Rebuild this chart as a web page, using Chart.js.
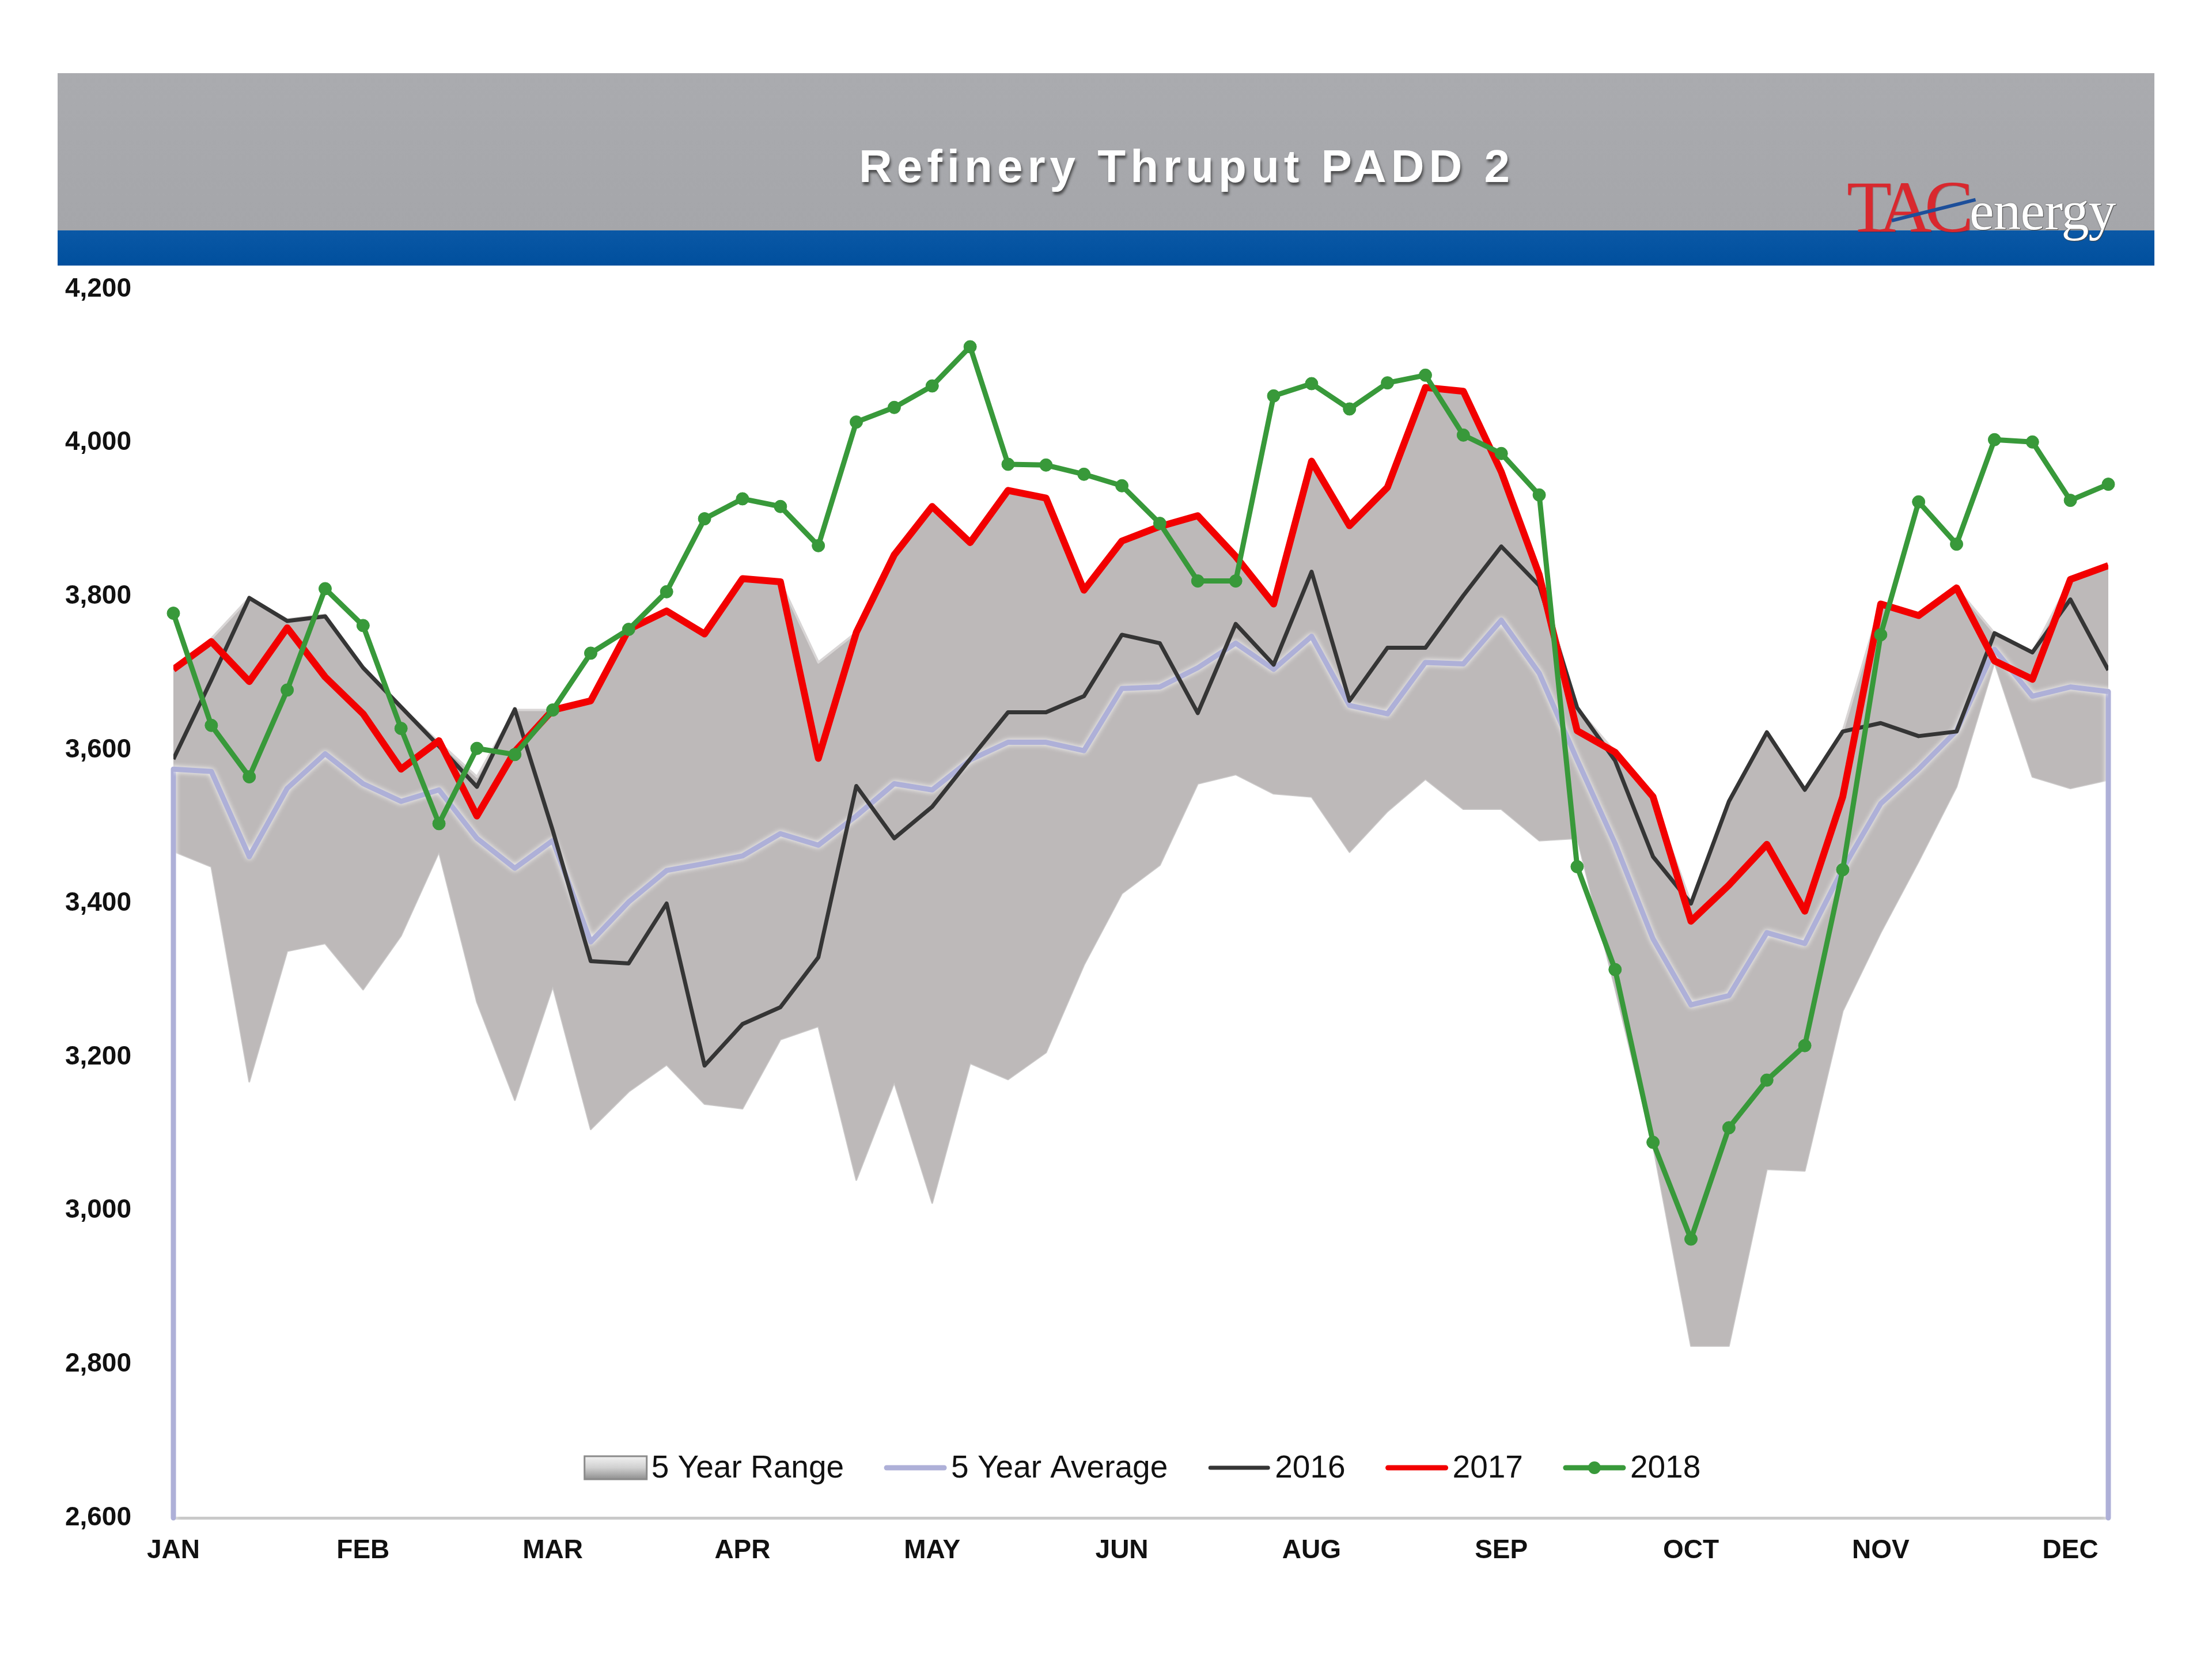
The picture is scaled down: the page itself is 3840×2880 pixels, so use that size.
<!DOCTYPE html>
<html>
<head>
<meta charset="utf-8">
<script src="https://cdn.jsdelivr.net/npm/chart.js@4.4.0/dist/chart.umd.min.js"></script>
<style>
html,body{margin:0;padding:0;background:#fff;}
#wrap{position:relative;width:3840px;height:2880px;overflow:hidden;}
#c{position:absolute;left:0;top:0;}
.hdr{position:absolute;left:100px;top:127px;width:3640px;height:273px;background:linear-gradient(#aaabaf,#a5a6aa);}
.band{position:absolute;left:100px;top:400px;width:3640px;height:61px;background:linear-gradient(#0a58a6,#004f9d);}
.title{position:absolute;left:2060px;top:249px;transform:translateX(-50%);font:bold 80px "Liberation Sans",Arial,sans-serif;line-height:80px;letter-spacing:8px;color:#fff;white-space:nowrap;text-shadow:2px 5px 4px rgba(40,40,40,.7);}
.tac{position:absolute;left:3206px;top:296px;font:127px "Liberation Serif","DejaVu Serif",serif;line-height:127px;letter-spacing:-12px;color:#d9282e;white-space:nowrap;text-shadow:1px 1px 1px rgba(120,0,0,.4);}
.energy{position:absolute;left:3419px;top:318px;font:96px "Liberation Serif","DejaVu Serif",serif;line-height:96px;letter-spacing:-1px;color:#fff;white-space:nowrap;text-shadow:0 0 2px #555,1px 1px 1px #444;}
.slash{position:absolute;left:3284px;top:380px;width:150px;height:6px;background:#1d4f9a;transform:rotate(-14deg);transform-origin:left center;}
</style>
</head>
<body>
<div id="wrap">
<canvas id="c" width="3840" height="2880"></canvas>
<div class="hdr"></div>
<div class="band"></div>
<div class="title">Refinery Thruput PADD 2</div>
<div class="tac">TAC</div>
<div class="slash"></div>
<div class="energy">energy</div>
</div>
<script>
// ---- data ----
const weekIndex = [0,1,2,3,4,5,6,7,8,9,10,11,12,13,14,15,16,17,18,19,20,21,22,23,24,25,
  26,27,28,29,30,31,32,33,34,35,36,37,38,39,40,41,42,43,44,45,46,47,48,49,50,51];
const monthLabels = ['JAN','FEB','MAR','APR','MAY','JUN','AUG','SEP','OCT','NOV','DEC'];
const monthTickWeeks = [0,5,10,15,20,25,30,35,40,45,50];

const range5yrLow = [3468,3448,3168,3338,3348,3288,3358,3467,3272,3144,
  3292,3106,3155,3190,3139,3133,3223,3240,3040,3167,
  3010,3192,3171,3206,3320,3413,3450,3556,3568,3543,
  3539,3467,3520,3562,3523,3523,3482,3485,3290,3085,
  2824,2824,3054,3052,3260,3362,3455,3552,3714,3565,
  3550,3561];
const range5yrHigh = [3705,3745,3798,3770,3776,3707,3656,3610,3565,3652,
  3652,3665,3757,3781,3755,3823,3819,3714,3753,3854,
  3917,3870,3938,3928,3808,3872,3891,3905,3852,3790,
  3976,3892,3942,4072,4067,3962,3828,3655,3597,3539,
  3400,3533,3623,3548,3624,3790,3775,3811,3752,3727,
  3822,3840];
const avg5yr = [3575,3572,3461,3550,3595,3556,3533,3548,3485,3446,
  3482,3350,3402,3443,3452,3462,3491,3476,3514,3556,
  3548,3587,3610,3610,3599,3680,3682,3707,3739,3705,
  3748,3658,3647,3714,3712,3769,3700,3587,3478,3354,
  3268,3280,3362,3348,3445,3530,3575,3625,3731,3670,
  3682,3676];
const y2016 = [3588,3691,3798,3768,3774,3707,3656,3605,3552,3653,
  3495,3325,3322,3400,3189,3243,3265,3330,3553,3485,
  3526,3588,3649,3649,3670,3750,3739,3648,3764,3711,
  3832,3664,3733,3733,3801,3865,3814,3655,3586,3461,
  3400,3533,3623,3548,3624,3635,3618,3624,3752,3727,
  3796,3704];
const y2017 = [3705,3741,3689,3759,3695,3647,3575,3612,3514,3598,
  3652,3664,3757,3781,3751,3823,3819,3589,3753,3854,
  3917,3870,3938,3928,3808,3872,3891,3905,3852,3790,
  3976,3892,3942,4072,4067,3962,3828,3625,3597,3539,
  3377,3424,3477,3390,3539,3790,3775,3811,3716,3692,
  3822,3840];
const y2018 = [3778,3632,3565,3678,3810,3762,3628,3504,3602,3594,
  3652,3726,3757,3806,3901,3927,3917,3866,4027,4046,
  4074,4125,3972,3971,3959,3944,3895,3820,3820,4061,
  4077,4044,4078,4088,4010,3986,3932,3448,3314,3089,
  2963,3108,3170,3215,3444,3750,3923,3868,4004,4001,
  3925,3946];
const yMin = 2600, yMax = 4200, yStep = 200;

// ---- styling ----
const FONT = '"Liberation Sans", Arial, sans-serif';
Chart.defaults.font.family = FONT;

const glowPlugin = {
  id: 'glow',
  beforeDatasetDraw(chart, args) {
    const ds = chart.data.datasets[args.index];
    if (ds.glow) { chart.ctx.save(); chart.ctx.shadowColor = ds.glow; chart.ctx.shadowBlur = 10; }
  },
  afterDatasetDraw(chart, args) {
    const ds = chart.data.datasets[args.index];
    if (ds.glow) chart.ctx.restore();
  }
};

const legendPlugin = {
  id: 'insideLegend',
  afterDatasetsDraw(chart) {
    const ctx = chart.ctx, area = chart.chartArea;
    const items = chart.data.datasets.filter(d => !d.label.startsWith('_'));
    const sampleW = 108, gapText = 8, gapItem = 70;
    ctx.save();
    ctx.font = 'normal 55px ' + FONT;
    ctx.textBaseline = 'middle';
    const widths = items.map(d => ctx.measureText(d.label).width);
    let total = 0;
    widths.forEach(w => total += sampleW + gapText + w);
    total += gapItem * (items.length - 1);
    let x = (area.left + area.right) / 2 + 3 - total / 2;
    const y = area.bottom - 87;
    items.forEach((d, i) => {
      if (d.legendKind === 'box') {
        const g = ctx.createLinearGradient(0, y - 20, 0, y + 20);
        g.addColorStop(0, '#f2f2f2'); g.addColorStop(0.5, '#d0d0d0'); g.addColorStop(1, '#8f8f8f');
        ctx.fillStyle = g; ctx.fillRect(x, y - 20, sampleW, 40);
        ctx.strokeStyle = '#8a8a8a'; ctx.lineWidth = 3; ctx.strokeRect(x, y - 20, sampleW, 40);
      } else {
        ctx.strokeStyle = d.borderColor; ctx.lineWidth = Math.min(d.borderWidth, 9);
        ctx.lineCap = 'round';
        ctx.beginPath(); ctx.moveTo(x + 4, y); ctx.lineTo(x + sampleW - 4, y); ctx.stroke();
        if (d.legendKind === 'marker') {
          ctx.fillStyle = d.pointBackgroundColor;
          ctx.beginPath(); ctx.arc(x + sampleW / 2, y, d.pointRadius, 0, Math.PI * 2); ctx.fill();
        }
      }
      x += sampleW + gapText;
      ctx.fillStyle = '#111';
      ctx.fillText(d.label, x, y + 2);
      x += widths[i] + gapItem;
    });
    ctx.restore();
  }
};

const AVG_COLOR = '#aeb0d8';

new Chart(document.getElementById('c'), {
  type: 'line',
  data: {
    labels: weekIndex,
    datasets: [
      { label: '_rangeLow', data: range5yrLow, borderColor: 'rgba(140,136,136,0.45)', borderWidth: 3,
        pointRadius: 0, fill: false, order: 6 },
      { label: '5 Year Range', data: range5yrHigh, borderColor: '#d9d6d6', borderWidth: 4,
        backgroundColor: '#bdb9b9', fill: '-1', pointRadius: 0, order: 5, legendKind: 'box' },
      { label: '5 Year Average', data: avg5yr, borderColor: AVG_COLOR, borderWidth: 9,
        pointRadius: 0, fill: false, order: 3, glow: 'rgba(255,255,255,0.95)', legendKind: 'line' },
      { label: '_avgEdgeStart', data: [{x: weekIndex[0], y: avg5yr[0]}, {x: weekIndex[0], y: yMin}],
        borderColor: AVG_COLOR, borderWidth: 9, pointRadius: 0, fill: false, order: 3.5, clip: 12,
        glow: 'rgba(255,255,255,0.95)' },
      { label: '_avgEdgeEnd', data: [{x: weekIndex[weekIndex.length - 1], y: avg5yr[avg5yr.length - 1]}, {x: weekIndex[weekIndex.length - 1], y: yMin}],
        borderColor: AVG_COLOR, borderWidth: 9, pointRadius: 0, fill: false, order: 3.5, clip: 12,
        glow: 'rgba(255,255,255,0.95)' },
      { label: '2016', data: y2016, borderColor: '#353535', borderWidth: 7,
        pointRadius: 0, fill: false, order: 2, legendKind: 'line' },
      { label: '2017', data: y2017, borderColor: '#f20000', borderWidth: 12,
        pointRadius: 0, fill: false, order: 1, legendKind: 'line' },
      { label: '2018', data: y2018, borderColor: '#38993a', borderWidth: 9,
        pointRadius: 11, pointBackgroundColor: '#38993a', pointBorderColor: '#38993a', pointBorderWidth: 1,
        fill: false, order: 0, legendKind: 'marker', clip: 14 }
    ]
  },
  options: {
    responsive: false,
    animation: false,
    devicePixelRatio: 1,
    layout: { padding: { left: 0, right: 180, top: 502, bottom: 125 } },
    elements: { line: { tension: 0, borderJoinStyle: 'round', borderCapStyle: 'butt' } },
    plugins: { legend: { display: false }, tooltip: { enabled: false } },
    scales: {
      x: {
        type: 'linear', min: weekIndex[0], max: weekIndex[weekIndex.length - 1],
        grid: { display: false, drawTicks: false },
        border: { display: true, color: '#c9c9c9', width: 5 },
        ticks: {
          color: '#111', padding: 30, maxRotation: 0, autoSkip: false,
          font: { size: 46, weight: 'bold' },
          callback: (v) => { const k = monthTickWeeks.indexOf(v); return k >= 0 ? monthLabels[k] : ''; }
        },
        afterBuildTicks: (s) => { s.ticks = monthTickWeeks.map(v => ({ value: v })); },
        afterFit: (s) => { s.height = 120; }
      },
      y: {
        min: yMin, max: yMax,
        grid: { display: false, drawTicks: false },
        border: { display: false },
        ticks: {
          stepSize: yStep, color: '#111', padding: 73,
          font: { size: 46, weight: 'bold' },
          callback: (v) => v.toLocaleString('en-US')
        },
        afterFit: (s) => { s.width = 301; }
      }
    }
  },
  plugins: [glowPlugin, legendPlugin]
});
</script>
</body>
</html>
